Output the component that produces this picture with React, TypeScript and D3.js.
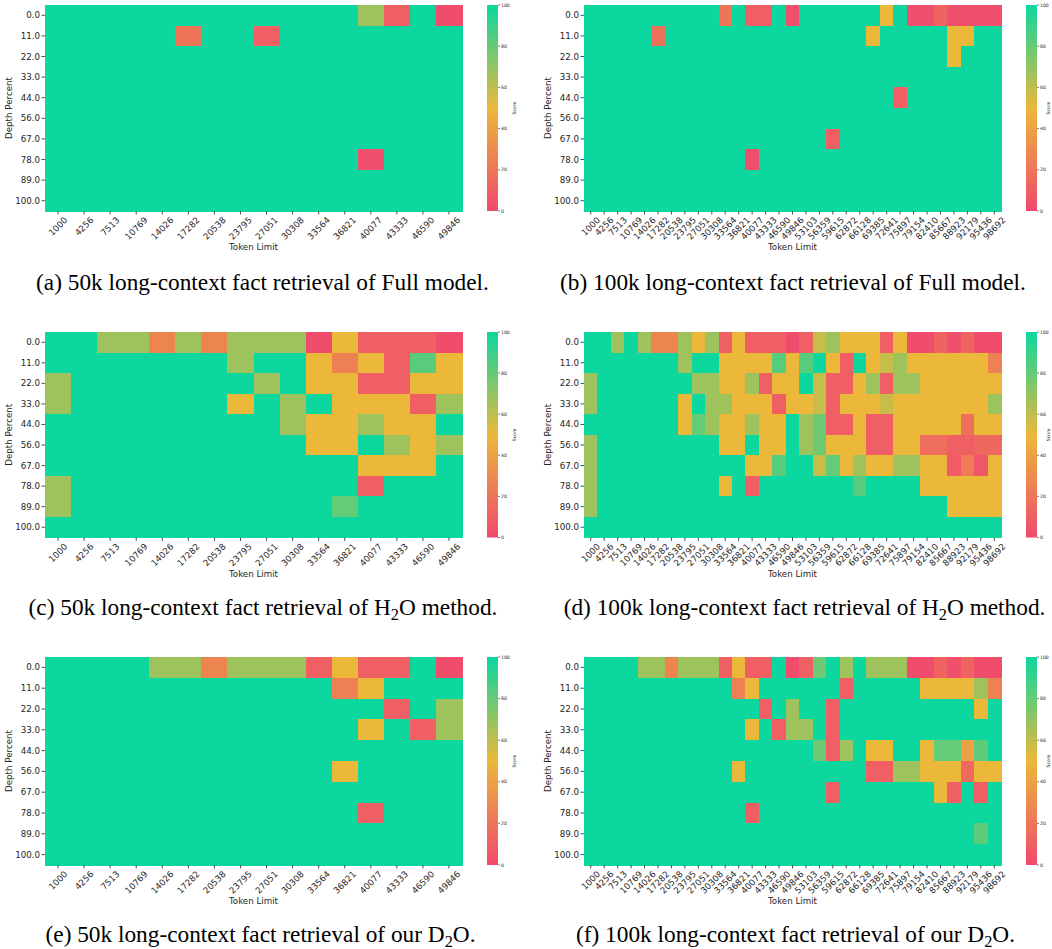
import React from "react";
import * as d3 from "d3";

const depthLabels = ["0.0", "11.0", "22.0", "33.0", "44.0", "56.0", "67.0", "78.0", "89.0", "100.0"];
const tokens50k = [1000, 4256, 7513, 10769, 14026, 17282, 20538, 23795, 27051, 30308, 33564, 36821, 40077, 43333, 46590, 49846];
const tokens100k = [1000, 4256, 7513, 10769, 14026, 17282, 20538, 23795, 27051, 30308, 33564, 36821, 40077, 43333, 46590, 49846, 53103, 56359, 59615, 62872, 66128, 69385, 72641, 75897, 79154, 82410, 85667, 88923, 92179, 95436, 98692];
const colorbarTicks = [0, 20, 40, 60, 80, 100];
const colorStops = ["#F0496E", "#EBB839", "#0CD79F"];

// (a) Full model, 50k
const full50k = [
  [100, 100, 100, 100, 100, 100, 100, 100, 100, 100, 100, 100, 67, 10, 100, 2],
  [100, 100, 100, 100, 100, 20, 100, 100, 10, 100, 100, 100, 100, 100, 100, 100],
  [100, 100, 100, 100, 100, 100, 100, 100, 100, 100, 100, 100, 100, 100, 100, 100],
  [100, 100, 100, 100, 100, 100, 100, 100, 100, 100, 100, 100, 100, 100, 100, 100],
  [100, 100, 100, 100, 100, 100, 100, 100, 100, 100, 100, 100, 100, 100, 100, 100],
  [100, 100, 100, 100, 100, 100, 100, 100, 100, 100, 100, 100, 100, 100, 100, 100],
  [100, 100, 100, 100, 100, 100, 100, 100, 100, 100, 100, 100, 100, 100, 100, 100],
  [100, 100, 100, 100, 100, 100, 100, 100, 100, 100, 100, 100, 3, 100, 100, 100],
  [100, 100, 100, 100, 100, 100, 100, 100, 100, 100, 100, 100, 100, 100, 100, 100],
  [100, 100, 100, 100, 100, 100, 100, 100, 100, 100, 100, 100, 100, 100, 100, 100],
];

// (b) Full model, 100k
const full100k = [
  [100, 100, 100, 100, 100, 100, 100, 100, 100, 100, 20, 100, 10, 10, 100, 3, 100, 100, 100, 100, 100, 100, 50, 100, 3, 3, 12, 3, 3, 3, 3],
  [100, 100, 100, 100, 100, 18, 100, 100, 100, 100, 100, 100, 100, 100, 100, 100, 100, 100, 100, 100, 100, 50, 100, 100, 100, 100, 100, 50, 50, 100, 100],
  [100, 100, 100, 100, 100, 100, 100, 100, 100, 100, 100, 100, 100, 100, 100, 100, 100, 100, 100, 100, 100, 100, 100, 100, 100, 100, 100, 50, 100, 100, 100],
  [100, 100, 100, 100, 100, 100, 100, 100, 100, 100, 100, 100, 100, 100, 100, 100, 100, 100, 100, 100, 100, 100, 100, 100, 100, 100, 100, 100, 100, 100, 100],
  [100, 100, 100, 100, 100, 100, 100, 100, 100, 100, 100, 100, 100, 100, 100, 100, 100, 100, 100, 100, 100, 100, 100, 10, 100, 100, 100, 100, 100, 100, 100],
  [100, 100, 100, 100, 100, 100, 100, 100, 100, 100, 100, 100, 100, 100, 100, 100, 100, 100, 100, 100, 100, 100, 100, 100, 100, 100, 100, 100, 100, 100, 100],
  [100, 100, 100, 100, 100, 100, 100, 100, 100, 100, 100, 100, 100, 100, 100, 100, 100, 100, 10, 100, 100, 100, 100, 100, 100, 100, 100, 100, 100, 100, 100],
  [100, 100, 100, 100, 100, 100, 100, 100, 100, 100, 100, 100, 3, 100, 100, 100, 100, 100, 100, 100, 100, 100, 100, 100, 100, 100, 100, 100, 100, 100, 100],
  [100, 100, 100, 100, 100, 100, 100, 100, 100, 100, 100, 100, 100, 100, 100, 100, 100, 100, 100, 100, 100, 100, 100, 100, 100, 100, 100, 100, 100, 100, 100],
  [100, 100, 100, 100, 100, 100, 100, 100, 100, 100, 100, 100, 100, 100, 100, 100, 100, 100, 100, 100, 100, 100, 100, 100, 100, 100, 100, 100, 100, 100, 100],
];

// (c) H2O, 50k
const h2o50k = [
  [100, 100, 67, 67, 27, 67, 27, 67, 67, 67, 2, 50, 10, 10, 10, 2],
  [100, 100, 100, 100, 100, 100, 100, 67, 100, 100, 50, 25, 50, 10, 83, 50],
  [67, 100, 100, 100, 100, 100, 100, 100, 67, 100, 50, 50, 10, 10, 50, 50],
  [67, 100, 100, 100, 100, 100, 100, 50, 100, 67, 100, 50, 50, 50, 10, 67],
  [100, 100, 100, 100, 100, 100, 100, 100, 100, 67, 50, 50, 67, 50, 50, 100],
  [100, 100, 100, 100, 100, 100, 100, 100, 100, 100, 50, 50, 100, 67, 50, 67],
  [100, 100, 100, 100, 100, 100, 100, 100, 100, 100, 100, 100, 50, 50, 50, 100],
  [67, 100, 100, 100, 100, 100, 100, 100, 100, 100, 100, 100, 10, 100, 100, 100],
  [67, 100, 100, 100, 100, 100, 100, 100, 100, 100, 100, 80, 100, 100, 100, 100],
  [100, 100, 100, 100, 100, 100, 100, 100, 100, 100, 100, 100, 100, 100, 100, 100],
];

// (d) H2O, 100k
const h2o100k = [
  [100, 100, 67, 100, 67, 27, 27, 67, 50, 67, 10, 50, 10, 10, 10, 2, 10, 58, 67, 50, 50, 50, 10, 50, 2, 2, 12, 3, 12, 2, 2],
  [100, 100, 100, 100, 100, 100, 100, 67, 100, 100, 50, 50, 50, 50, 83, 50, 83, 100, 50, 10, 100, 50, 58, 67, 50, 50, 50, 50, 50, 50, 25],
  [67, 100, 100, 100, 100, 100, 100, 100, 67, 67, 50, 50, 67, 10, 50, 50, 100, 58, 10, 10, 50, 67, 10, 67, 67, 50, 50, 50, 50, 50, 50],
  [67, 100, 100, 100, 100, 100, 100, 50, 100, 67, 67, 50, 50, 50, 10, 50, 50, 58, 10, 50, 50, 50, 58, 50, 50, 50, 50, 50, 50, 50, 67],
  [100, 100, 100, 100, 100, 100, 100, 50, 80, 67, 50, 50, 67, 50, 50, 100, 67, 78, 10, 10, 50, 10, 10, 50, 50, 50, 50, 50, 18, 50, 50],
  [67, 100, 100, 100, 100, 100, 100, 100, 100, 100, 50, 50, 100, 50, 50, 100, 67, 78, 50, 50, 50, 10, 10, 50, 50, 16, 16, 10, 10, 14, 14],
  [67, 100, 100, 100, 100, 100, 100, 100, 100, 100, 100, 100, 50, 50, 83, 100, 100, 58, 80, 50, 67, 50, 50, 67, 67, 50, 50, 8, 22, 6, 50],
  [67, 100, 100, 100, 100, 100, 100, 100, 100, 100, 50, 100, 10, 100, 100, 100, 100, 100, 100, 100, 83, 100, 100, 100, 100, 50, 50, 50, 50, 50, 50],
  [67, 100, 100, 100, 100, 100, 100, 100, 100, 100, 100, 100, 100, 100, 100, 100, 100, 100, 100, 100, 100, 100, 100, 100, 100, 100, 100, 50, 50, 50, 50],
  [100, 100, 100, 100, 100, 100, 100, 100, 100, 100, 100, 100, 100, 100, 100, 100, 100, 100, 100, 100, 100, 100, 100, 100, 100, 100, 100, 100, 100, 100, 100],
];

// (e) D2O, 50k
const d2o50k = [
  [100, 100, 100, 100, 67, 67, 27, 67, 67, 67, 10, 50, 10, 10, 100, 2],
  [100, 100, 100, 100, 100, 100, 100, 100, 100, 100, 100, 25, 50, 100, 100, 100],
  [100, 100, 100, 100, 100, 100, 100, 100, 100, 100, 100, 100, 100, 10, 100, 67],
  [100, 100, 100, 100, 100, 100, 100, 100, 100, 100, 100, 100, 50, 100, 10, 67],
  [100, 100, 100, 100, 100, 100, 100, 100, 100, 100, 100, 100, 100, 100, 100, 100],
  [100, 100, 100, 100, 100, 100, 100, 100, 100, 100, 100, 50, 100, 100, 100, 100],
  [100, 100, 100, 100, 100, 100, 100, 100, 100, 100, 100, 100, 100, 100, 100, 100],
  [100, 100, 100, 100, 100, 100, 100, 100, 100, 100, 100, 100, 10, 100, 100, 100],
  [100, 100, 100, 100, 100, 100, 100, 100, 100, 100, 100, 100, 100, 100, 100, 100],
  [100, 100, 100, 100, 100, 100, 100, 100, 100, 100, 100, 100, 100, 100, 100, 100],
];

// (f) D2O, 100k
const d2o100k = [
  [100, 100, 100, 100, 67, 67, 27, 67, 67, 67, 10, 50, 10, 10, 100, 2, 10, 78, 100, 67, 100, 67, 67, 67, 2, 2, 12, 3, 12, 2, 2],
  [100, 100, 100, 100, 100, 100, 100, 100, 100, 100, 100, 25, 50, 100, 100, 100, 100, 100, 100, 10, 100, 100, 100, 100, 100, 50, 50, 50, 50, 67, 25],
  [100, 100, 100, 100, 100, 100, 100, 100, 100, 100, 100, 100, 100, 10, 100, 67, 100, 100, 10, 100, 100, 100, 100, 100, 100, 100, 100, 100, 100, 50, 100],
  [100, 100, 100, 100, 100, 100, 100, 100, 100, 100, 100, 100, 50, 100, 10, 67, 67, 100, 10, 100, 100, 100, 100, 100, 100, 100, 100, 100, 100, 100, 100],
  [100, 100, 100, 100, 100, 100, 100, 100, 100, 100, 100, 100, 100, 100, 100, 100, 100, 78, 10, 67, 100, 50, 50, 100, 100, 50, 80, 80, 40, 82, 100],
  [100, 100, 100, 100, 100, 100, 100, 100, 100, 100, 100, 50, 100, 100, 100, 100, 100, 100, 100, 100, 100, 10, 10, 67, 67, 50, 50, 50, 15, 50, 50],
  [100, 100, 100, 100, 100, 100, 100, 100, 100, 100, 100, 100, 100, 100, 100, 100, 100, 100, 10, 100, 100, 100, 100, 100, 100, 100, 50, 10, 100, 10, 100],
  [100, 100, 100, 100, 100, 100, 100, 100, 100, 100, 100, 100, 10, 100, 100, 100, 100, 100, 100, 100, 100, 100, 100, 100, 100, 100, 100, 100, 100, 100, 100],
  [100, 100, 100, 100, 100, 100, 100, 100, 100, 100, 100, 100, 100, 100, 100, 100, 100, 100, 100, 100, 100, 100, 100, 100, 100, 100, 100, 100, 100, 82, 100],
  [100, 100, 100, 100, 100, 100, 100, 100, 100, 100, 100, 100, 100, 100, 100, 100, 100, 100, 100, 100, 100, 100, 100, 100, 100, 100, 100, 100, 100, 100, 100],
];

const captionA = ["(a) 50k long-context fact retrieval of Full model.", "", ""];
const captionB = ["(b) 100k long-context fact retrieval of Full model.", "", ""];
const captionC = ["(c) 50k long-context fact retrieval of H", "2", "O method."];
const captionD = ["(d) 100k long-context fact retrieval of H", "2", "O method."];
const captionE = ["(e) 50k long-context fact retrieval of our D", "2", "O."];
const captionF = ["(f) 100k long-context fact retrieval of our D", "2", "O."];

const TICK_FONT = "DejaVu Sans, sans-serif";
const TEXT_COLOR = "#262626";
const CAPTION_SIZE = 23.3;

const color = d3
  .scaleLinear<string>()
  .domain([0, 50, 100])
  .range(colorStops)
  .interpolate(d3.interpolateRgb);

type PanelProps = {
  id: string;
  left: number;
  top: number;
  width: number;
  height: number;
  cbLeft: number;
  tokens: number[];
  data: number[][];
  caption: string[];
  capX: number;
  capY: number;
};

function Panel({ id, left, top, width, height, cbLeft, tokens, data, caption, capX, capY }: PanelProps) {
  const x = d3.scaleBand<string>().domain(tokens.map(String)).range([left, left + width]);
  const y = d3.scaleBand<string>().domain(depthLabels).range([top, top + height]);
  const bottom = top + height;
  const cbW = 11;
  const cbY = d3.scaleLinear().domain([0, 100]).range([bottom, top]);
  const fs = 8.7;
  const gradId = `grad-${id}`;

  return (
    <g>
      <g shapeRendering="crispEdges">
        {data.map((row, ri) =>
          row.map((v, ci) => (
            <rect
              key={`${ri}-${ci}`}
              x={x(String(tokens[ci]))}
              y={y(depthLabels[ri])}
              width={x.bandwidth() + 0.6}
              height={y.bandwidth() + 0.6}
              fill={color(v)}
            />
          ))
        )}
      </g>
      {depthLabels.map((d) => {
        const cy = (y(d) as number) + y.bandwidth() / 2;
        return (
          <g key={d}>
            <line x1={left - 3.5} x2={left} y1={cy} y2={cy} stroke={TEXT_COLOR} strokeWidth={0.8} />
            <text
              x={left - 5}
              y={cy}
              textAnchor="end"
              dominantBaseline="central"
              fontFamily={TICK_FONT}
              fontSize={fs}
              fill={TEXT_COLOR}
            >
              {d}
            </text>
          </g>
        );
      })}
      <text
        transform={`translate(${left - 36},${top + height / 2}) rotate(-90)`}
        textAnchor="middle"
        dominantBaseline="central"
        fontFamily={TICK_FONT}
        fontSize={fs}
        fill={TEXT_COLOR}
      >
        Depth Percent
      </text>
      {tokens.map((t) => {
        const label = String(t);
        const cx = (x(label) as number) + x.bandwidth() / 2;
        const w = label.length * 0.636 * fs;
        const h = 1.16 * fs;
        const W = (w + h) * Math.SQRT1_2;
        const cy = bottom + 4 + W / 2;
        return (
          <g key={label}>
            <line x1={cx} x2={cx} y1={bottom} y2={bottom + 3.5} stroke={TEXT_COLOR} strokeWidth={0.8} />
            <text
              transform={`translate(${cx},${cy}) rotate(-45)`}
              textAnchor="middle"
              dominantBaseline="central"
              fontFamily={TICK_FONT}
              fontSize={fs}
              fill={TEXT_COLOR}
            >
              {label}
            </text>
          </g>
        );
      })}
      <text
        x={left + width / 2}
        y={bottom + 36}
        textAnchor="middle"
        dominantBaseline="central"
        fontFamily={TICK_FONT}
        fontSize={fs}
        fill={TEXT_COLOR}
      >
        Token Limit
      </text>
      <defs>
        <linearGradient id={gradId} x1="0" y1="1" x2="0" y2="0">
          {colorStops.map((c, i) => (
            <stop key={i} offset={i / (colorStops.length - 1)} stopColor={c} />
          ))}
        </linearGradient>
      </defs>
      <rect x={cbLeft} y={top} width={cbW} height={height} fill={`url(#${gradId})`} />
      {colorbarTicks.map((t) => (
        <g key={t}>
          <line x1={cbLeft + cbW} x2={cbLeft + cbW + 2} y1={cbY(t)} y2={cbY(t)} stroke={TEXT_COLOR} strokeWidth={0.6} />
          <text
            x={cbLeft + cbW + 3}
            y={cbY(t)}
            dominantBaseline="central"
            fontFamily={TICK_FONT}
            fontSize={4.6}
            fill={TEXT_COLOR}
          >
            {t}
          </text>
        </g>
      ))}
      <text
        transform={`translate(${Math.min(cbLeft + cbW + 16, 1048)},${top + height / 2}) rotate(-90)`}
        textAnchor="middle"
        dominantBaseline="central"
        fontFamily={TICK_FONT}
        fontSize={4.6}
        fill={TEXT_COLOR}
      >
        Score
      </text>
      <text
        x={capX}
        y={capY}
        textAnchor="middle"
        fontFamily="Liberation Serif, Times New Roman, serif"
        fontSize={CAPTION_SIZE}
        fill="#000"
      >
        {caption[0]}
        {caption[1] ? (
          <tspan dy={4.5} fontSize={CAPTION_SIZE * 0.7}>
            {caption[1]}
          </tspan>
        ) : null}
        {caption[2] ? <tspan dy={caption[1] ? -4.5 : 0}>{caption[2]}</tspan> : null}
      </text>
    </g>
  );
}

export default function App() {
  return (
    <svg
      width={1052}
      height={949}
      viewBox="0 0 1052 949"
      style={{ position: "absolute", left: 0, top: 0, background: "#fff" }}
    >
      <rect x={0} y={0} width={1052} height={949} fill="#fff" />
      <Panel id="a" left={45} top={5} width={417} height={206} cbLeft={487} tokens={tokens50k} data={full50k} caption={captionA} capX={262.5} capY={290} />
      <Panel id="b" left={584} top={5} width={417} height={206} cbLeft={1026} tokens={tokens100k} data={full100k} caption={captionB} capX={793} capY={290} />
      <Panel id="c" left={45} top={332} width={417} height={205.5} cbLeft={487} tokens={tokens50k} data={h2o50k} caption={captionC} capX={263} capY={615} />
      <Panel id="d" left={584} top={332} width={417} height={205.5} cbLeft={1026} tokens={tokens100k} data={h2o100k} caption={captionD} capX={804.5} capY={615} />
      <Panel id="e" left={45} top={657} width={417} height={208} cbLeft={487} tokens={tokens50k} data={d2o50k} caption={captionE} capX={260.5} capY={942} />
      <Panel id="f" left={584} top={657} width={417} height={208} cbLeft={1026} tokens={tokens100k} data={d2o100k} caption={captionF} capX={795.5} capY={942} />
    </svg>
  );
}
